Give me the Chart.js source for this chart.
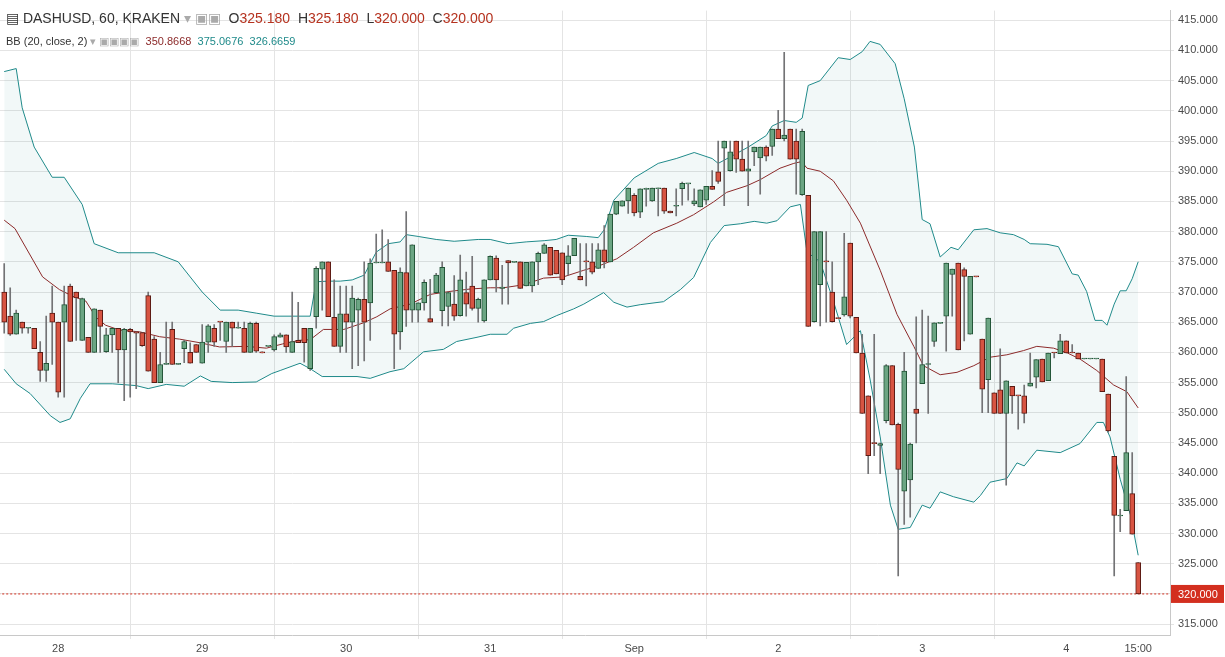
<!DOCTYPE html>
<html><head><meta charset="utf-8">
<script src="https://cdn.jsdelivr.net/npm/chart.js@4.4.1/dist/chart.umd.min.js"></script>
<style>
body{margin:0;background:#fff;font-family:"Liberation Sans",Arial,sans-serif;}
#wrap{position:relative;width:1225px;height:657px;}
.hdr{position:absolute;left:6px;font-size:13px;color:#333;white-space:nowrap;}
.hdr b{font-weight:normal;color:#555}
.v{color:#b5321f}
</style></head><body>
<div id="wrap"><canvas id="c" width="1225" height="657"></canvas>
<div class="hdr" style="top:10px;font-size:14px">&#9636; DASHUSD, 60, KRAKEN <span style="color:#aaa">&#9662; &#9635;&#9635;</span>&nbsp; O<span class="v">325.180</span>&nbsp; H<span class="v">325.180</span>&nbsp; L<span class="v">320.000</span>&nbsp; C<span class="v">320.000</span></div>
<div class="hdr" style="top:35px;font-size:11px">BB (20, close, 2) <span style="color:#aaa">&#9662; &#9635;&#9635;&#9635;&#9635;</span>&nbsp; <span style="color:#8c2a2a">350.8668</span>&nbsp; <span style="color:#1f8a8a">375.0676</span>&nbsp; <span style="color:#1f8a8a">326.6659</span></div>
</div>
<script>
// hours since Aug 28 00:00 (1 candle per hour), first candle at -9
const startHour = -9;
const opens = [370,366,363,365,364,364,360,357,366.5,365,365,371,370,362,362.5,360,367,360.1,362.9,364,360.4,363.8,363.4,363.3,369.4,362.2,355,358,363.8,358,360.6,360,361.3,358.2,361.7,364,365.1,361.8,365,364,364,360,364.8,360.1,361,360.4,362.5,362.9,360,362,364,357.3,365.9,373.8,375,365.8,361,366.4,365,367,368.8,368.2,374.8,374.8,375,373.6,363.4,373.2,367,367,368.2,365.6,369.9,366.9,367.6,368,366.1,369.9,371,367.3,365.2,372,375.6,370.6,375.2,374.9,375,371,371,375,376.4,377.4,376.9,376.5,374.7,376,372.6,375.1,375,373.9,377,375,382.9,384.2,385.1,386,383.2,387,385.1,387.1,387.2,383.4,384.2,387.1,387.9,384.6,384.1,385.2,387.5,389.9,393.8,390.1,395,392,390,393.2,392.2,394,394.1,397,395.4,397,395,386.1,386,365.1,371.2,375.1,370,365.7,366.2,378.1,365.8,359.9,352.8,345,344.6,348.7,357.8,348.1,337,338.9,350.6,354.8,358,361.8,364.8,366,372.9,374.8,373.7,363,372.6,362.2,355.5,353.3,353.8,349.9,354.4,352.9,352.8,354.4,355.9,358.9,355.3,360,359.8,361.9,360,359.9,358.9,358.9,358.9,358.9,353.1,342.8,332.9,333.8,336.6,325.18];
const highs = [374.7,370.7,367,365,364.1,364,361.8,366,371,365,371,371.3,370,369,362.5,367.2,367,364,364,364,364,364,363.4,363.3,370,362.6,360,365,365,358.2,362,361.6,361.3,364.6,364.6,364.6,365.1,365,365,365,365,365,365,360.1,361,362.9,363.2,362.9,370,368.3,364,364,374.2,375,375,372,371,371,371,369,375,375.5,379.6,380.3,378.7,373.6,374,383.3,377.8,368.2,372,372.1,373.1,375,370,372.7,376.1,373.3,375.9,369,372,376,376,374.4,375.2,375,375,374.9,375,376.6,378,377.4,376.9,376.5,377.7,378.9,378,378,378,378,381,382.9,385,385.1,387.2,386.3,387.1,387.2,387.2,387.2,387.2,383.4,387.1,388.2,388,387.1,386.9,387.5,390.1,395,395,395,395,395,395,394,394,394.2,397,400.1,409.7,397,397,397,386,380,380,380,375,365.7,379.7,378.1,365.8,363,352.8,363,345,358,357.8,348.3,360,345,365.9,367,366,364.9,364.9,374.8,373.8,374.8,374,372.6,372.6,362.2,365.7,353.3,360.6,355.3,354.4,352.9,354.6,359.9,358.8,358.9,359.9,360,363,361.9,361.3,359.9,359,359,359,358.9,353.1,342.8,334,356,343.4,325.18];
const lows = [363.2,362.8,363,363.2,363.2,360.6,355.2,355.2,358,352.6,352.6,361.8,362,362,360,360,360,360,360,355,352,352.6,354,361,356.9,355,355,358,358,358,358.3,358.2,360,358.2,360,361,362,360,361,364,360,360,360,359.9,361,360.2,362.5,360,360,361.6,358.4,357,364,367,365.9,361,360,360,357.3,357.8,358.6,362,374.8,374.8,373.4,357.3,360.5,364.3,365,365,367,365,369.9,364.4,364.4,365.3,366,366,367,365,365,372,370,368,368,374.9,370.6,371,370,371.2,376.4,372.8,373,371.2,372.8,376,372,371,373,373.9,374,375,382.8,384.2,383,382.6,382.3,384.2,385,382.6,383,383.1,382.6,384.4,385.2,384.3,384.1,384.5,387,388,384.3,390,389.8,390,384.3,390.9,386.2,391.7,392.6,395.4,395,392,386.2,386,364.3,365,364.4,365,365,365.6,366,365.7,359.9,349.9,339.9,342.9,339.9,348.3,348,323,331.5,332.7,345,354.8,349.9,361,364.8,360.2,366,360.4,361.9,363,372.5,350,350,349.9,349.9,338,349.9,347.3,348.3,354.4,354.1,355.1,355.3,359.1,359.8,359.9,359.9,358.9,358.9,358.9,358.9,353.5,346.8,323,330.3,333.8,329.9,320];
const closes = [365,363,366.5,364,364.1,360.6,357,358.2,365,353.4,367.9,361.8,369,368.9,360,367.2,364.3,362.9,364,360.4,363.8,363.4,363.2,361.1,356.9,355,358,358.2,358,358.2,361.8,358.2,360,361.7,364.4,361.7,365,365,364,364.1,360,364.8,360.2,359.9,361,362.6,362.9,360.9,361.8,361.6,361.6,364,373.9,375,365.9,361,366.4,365,369,368.8,365,374.8,374.9,374.9,373.4,363,373.3,367,377.8,368.2,371.6,365,372.8,374.1,369.9,366,372,368,367.3,368.8,372,375.9,372,370.8,374.8,375,370.6,374.9,375,376.4,377.8,372.8,373,372,376,378.9,372,375,373.3,377,375,382.9,385,385.1,387.2,383.1,387.1,387.1,387.2,387.2,383.4,383.1,384.3,388,388,385.1,386.9,387.5,387,388.3,395,393.2,392,390,390.4,394,394,392.5,397,395.4,396,392,392,396.6,364.3,380,380,375,365.1,365.6,369.2,366,359.9,349.9,342.9,344.9,344.9,357.8,348,340.6,356.9,344.8,349.9,358,358.1,364.9,364.9,374.8,373.8,360.4,372.6,372.6,372.5,353.9,365.7,349.9,349.9,355.3,352.8,352.8,349.9,354.9,358.8,355.1,359.9,359.9,361.9,359.9,359.9,358.9,359,359,359,353.5,347,333,333,343.4,329.9,320];
// Bollinger band readings (hour, value)
const upperH = [-9,-7,-6,-4,-1,1,4,6,10,16,20,24,27,30,33,36,39,42,43,45,47,49,51,52,53,55,57,58,60,63,66,70,72,75,78,81,83,85,88,90,91,92.6,96,100,103,106,109,110,113,115,118,119,121,123,124,125,127,130,132,134,135.3,137,139.5,141,142.7,144,145.3,147,148.8,150,152.6,154.8,157,159.2,161,162,164.8,166.7,169,170,171.4,172.8,174,174.8,176,177,178,179,180];
const upperV = [406.5,407,400.5,394,389,389,384.5,378,376.5,376.5,375,370,367,367,366.5,366,366,366,371.7,371.8,371.8,372,372.8,374.7,376.6,378,378.3,379.5,379.2,378.7,378.4,378.7,378.7,378,378.3,378.5,378.7,379.4,379.2,379,380.3,385.2,388.9,391.3,392.1,393.1,392.1,391.3,392.9,394,395.9,397.5,398.4,398.1,398.8,404.2,405,408.8,408.5,409.8,411.5,411,407.8,402,394,382,381.3,375.8,377.4,377,380.3,380.5,379.8,379.5,378.7,378,377.9,377.5,373,372.8,370.1,365.3,365.3,364.5,368,370.2,370.2,372.2,375];
const lowerH = [-9,-7,-4.7,-1.3,0.3,2,3.7,5.3,9,13,15,18,21,23.7,25.5,29,33,35.6,37,40.3,42,44,49.8,52,55.3,57.6,60.9,64.2,66.4,69.8,72,74.8,75.9,78.7,80.9,83.1,85.9,87.6,90.9,92.6,94.8,97,100.9,103.7,105.9,108.7,111,113.7,116,118.1,119.8,122,123.7,124.8,127,129.2,131.4,133.7,135.3,137,138.7,140,142,144,145.3,147,149.2,152.6,153.7,155.3,158.1,159.8,161,163.1,167,170.3,173.1,174.2,175.3,177,178.7,180];
const lowerV = [357.2,354.8,353.2,349.5,348.4,349,352.4,354.8,354.8,354.5,354,354.7,354.4,356.1,355.2,355,355.1,356.5,357,358.2,357.3,356,356,355.7,356.8,357.3,360.1,360.5,361.8,362.5,363,363,364,364.8,365.1,366.1,367.2,368,369.9,368.3,367.5,367.9,368.4,370.4,372.4,378.2,381,381.3,381.7,381.4,381.8,384.1,384.5,376.6,375,368.5,361.3,363.6,355.6,346,334.7,330.7,331,334.7,334.2,336.9,336.1,335.2,336.3,338.5,339.1,341.7,341.2,343.8,343.4,344.9,348.4,348.4,346,339,333.1,326.4];
const midH = [-9,-7.2,-2.6,0.2,2.4,4.6,6.3,7.9,10.2,13.6,16.9,20.2,23.6,26.9,31.3,34.7,37.4,40.2,42,44.2,47.6,50.9,53.1,55.3,58.7,62,65.3,68.7,72,74.2,77.6,80.9,84.2,87.6,90.3,93.1,95.9,99.2,103.1,105.9,109.2,111.4,114.8,117,120.3,122.6,123.9,124.8,127,129.2,131.4,133.7,137,139.8,142.6,144.2,147,149.8,152.6,155.3,158.1,160.9,163.1,165.9,168.2,170.3,173.1,175.9,178.1,180];
const midV = [381.9,380.5,372.5,370.4,369.3,368.5,365.8,364.5,363.7,363.4,362.6,362.2,361.6,360.9,361,360.7,361.4,362,362.1,363.8,363.8,364.9,365.9,367.2,368,369.6,370.1,370.5,370.7,370.7,371.2,372.3,372.5,373.6,374.4,375.5,377.4,379.8,381.4,382.8,384.9,386.5,387.6,388.6,390.5,391.3,391.6,390.5,390,388.4,385.2,381.4,373.6,366.3,361,357.8,356.3,356.7,357.8,359.2,359.6,360.3,361,360.7,359.9,358.9,357,354.6,353.5,350.8];
const dayTicks = [0,24,48,72,96,120,144,168,180];
const dayLabels = ['28','29','30','31','Sep','2','3','4','15:00'];
const lastPrice = 320;

const UP='#6ba583', UPB='#225437', DN='#d75442', DNB='#5b1a13';
const bodies=[], wicks=[], bodyCol=[], bodyBor=[];
opens.forEach((o,i)=>{
  const x=startHour+i, c=closes[i];
  bodies.push({x, y:[o,c]}); wicks.push({x, y:[lows[i],highs[i]]});
  const up=c>=o; bodyCol.push(up?UP:DN); bodyBor.push(up?UPB:DNB);
});
const xy=(h,v)=>h.map((x,i)=>({x,y:v[i]}));

const priceTag={id:'pt',afterDraw(ch){
  const c=ch.ctx, y=ch.scales.y.getPixelForValue(lastPrice), a=ch.chartArea;
  c.save(); c.fillStyle='#d32f1f'; c.fillRect(a.right+1,y-9,53,18);
  c.fillStyle='#fff'; c.font='11px "Liberation Sans",Arial'; c.textBaseline='middle';
  c.fillText(lastPrice.toFixed(3),a.right+8,y+1); c.restore();
}};

new Chart(document.getElementById('c'),{
  type:'bar',
  data:{datasets:[
    {type:'line',data:xy(upperH,upperV),borderColor:'#1f8a8a',borderWidth:1,pointRadius:0,fill:'+1',backgroundColor:'rgba(31,138,138,0.06)',tension:0,order:5},
    {type:'line',data:xy(lowerH,lowerV),borderColor:'#1f8a8a',borderWidth:1,pointRadius:0,fill:false,tension:0,order:5},
    {type:'line',data:xy(midH,midV),borderColor:'#8c2a2a',borderWidth:1,pointRadius:0,fill:false,tension:0,order:4},
    {type:'line',data:[{x:-10,y:lastPrice},{x:186,y:lastPrice}],borderColor:'#d32f1f',borderWidth:1,borderDash:[2,2],pointRadius:0,fill:false,order:3},
    {data:wicks,backgroundColor:'#737375',barThickness:1,grouped:false,order:2},
    {data:bodies,backgroundColor:bodyCol,borderColor:bodyBor,borderWidth:1,borderSkipped:false,barThickness:5,minBarLength:1,grouped:false,order:1}
  ]},
  options:{
    responsive:false,animation:false,events:[],
    layout:{padding:0},
    plugins:{legend:{display:false},tooltip:{enabled:false}},
    scales:{
      x:{type:'linear',min:-9.7,max:185.3,offset:false,
        afterBuildTicks(s){s.ticks=dayTicks.map(v=>({value:v}));},
        afterFit(s){s.height=22;},
        ticks:{autoSkip:false,maxRotation:0,color:'#4a4a4a',font:{size:11,family:'Liberation Sans'},callback:(v)=>dayLabels[dayTicks.indexOf(v)]},
        grid:{color:(c)=>c.tick&&c.tick.value===180?'rgba(0,0,0,0)':'#e4e4e4',drawTicks:true,tickLength:4},
        border:{color:'#c8c8c8'}},
      y:{position:'right',min:313.2,max:416.6,
        afterBuildTicks(s){const t=[];for(let v=315;v<=415;v+=5)t.push({value:v});s.ticks=t;},
        afterFit(s){s.width=55;},
        ticks:{color:'#4a4a4a',font:{size:11,family:'Liberation Sans'},padding:4,callback:v=>v.toFixed(3)},
        grid:{color:'#e4e4e4',tickLength:4},
        border:{color:'#c8c8c8'}}
    }
  },
  plugins:[priceTag]
});
</script></body></html>
